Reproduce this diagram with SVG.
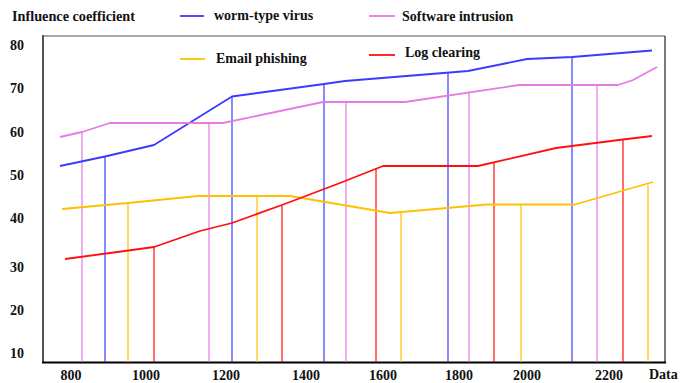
<svg xmlns="http://www.w3.org/2000/svg" width="680" height="383" viewBox="0 0 680 383">
<style>
text{font-family:"Liberation Serif","Times New Roman",serif;font-weight:bold;font-size:14px;fill:#111}
.s{fill:none;stroke-width:1.8;stroke-linejoin:round}
.v{stroke-width:1.6;opacity:0.75}
.blue{stroke:#3b3bff}
.pink{stroke:#e57be5}
.yel{stroke:#ffc000}
.red{stroke:#ff1010}
</style>
<rect width="680" height="383" fill="#fff"/>
<g id="legend">
<text x="12" y="21" textLength="123" lengthAdjust="spacingAndGlyphs">Influence coefficient</text>
<line class="s blue" x1="180" y1="16" x2="204" y2="16"/>
<text x="214" y="20">worm-type virus</text>
<line class="s pink" x1="369" y1="16" x2="395" y2="16"/>
<text x="402" y="21">Software intrusion</text>
<line class="s yel" x1="180" y1="59" x2="205" y2="59"/>
<text x="216" y="63">Email phishing</text>
<line class="s red" x1="369" y1="55" x2="395" y2="55"/>
<text x="405" y="57">Log clearing</text>
</g>
<g id="axes">
<line x1="43" y1="36" x2="665" y2="36" stroke="#555" stroke-width="1.2"/>
<line x1="665" y1="36" x2="665" y2="363" stroke="#222" stroke-width="1.2"/>
<line x1="43" y1="35" x2="43" y2="363" stroke="#555" stroke-width="2"/>
<line x1="42" y1="362.5" x2="666" y2="362.5" stroke="#000" stroke-width="2"/>
<g id="ylabels">
<text x="10" y="50">80</text>
<text x="10" y="93">70</text>
<text x="10" y="137">60</text>
<text x="10" y="180">50</text>
<text x="10" y="223">40</text>
<text x="10" y="272">30</text>
<text x="10" y="315">20</text>
<text x="10" y="358">10</text>
</g>
<g id="xlabels" text-anchor="middle">
<text x="71" y="380">800</text>
<text x="146" y="380">1000</text>
<text x="226" y="380">1200</text>
<text x="306" y="380">1400</text>
<text x="383" y="380">1600</text>
<text x="459" y="380">1800</text>
<text x="527" y="380">2000</text>
<text x="609" y="380">2200</text>
<text x="649" y="379" text-anchor="start" font-size="13">Data</text>
</g>
</g>
<g id="connectors">
<g id="verticals">
<line class="v pink" x1="82" y1="132" x2="82" y2="362"/>
<line class="v pink" x1="209" y1="123" x2="209" y2="362"/>
<line class="v pink" x1="346" y1="102" x2="346" y2="362"/>
<line class="v pink" x1="469" y1="93" x2="469" y2="362"/>
<line class="v pink" x1="597" y1="85" x2="597" y2="362"/>
<line class="v blue" x1="105" y1="156" x2="105" y2="362"/>
<line class="v blue" x1="232" y1="96" x2="232" y2="362"/>
<line class="v blue" x1="324" y1="84" x2="324" y2="362"/>
<line class="v blue" x1="448" y1="73" x2="448" y2="362"/>
<line class="v blue" x1="572" y1="57" x2="572" y2="362"/>
<line class="v yel" x1="128" y1="203" x2="128" y2="362"/>
<line class="v yel" x1="257" y1="196" x2="257" y2="362"/>
<line class="v yel" x1="401" y1="212" x2="401" y2="362"/>
<line class="v yel" x1="521" y1="204" x2="521" y2="362"/>
<line class="v yel" x1="648" y1="185" x2="648" y2="362"/>
<line class="v red" x1="154" y1="247" x2="154" y2="362"/>
<line class="v red" x1="282" y1="206" x2="282" y2="362"/>
<line class="v red" x1="376" y1="168" x2="376" y2="362"/>
<line class="v red" x1="494" y1="162" x2="494" y2="362"/>
<line class="v red" x1="623" y1="140" x2="623" y2="362"/>
</g>
<polyline id="worm" class="s blue" points="60,166 105,156.5 154,145 232,96.5 324,84 345,81 468,71 527,59 572,57 652,50.5"/>
<polyline id="software" class="s pink" points="60,137 82,132 110,123 223,123 323,102 405,102 519,85 618,85 633,80 657,67"/>
<polyline id="email" class="s yel" points="62,209 128,203 198,196 290,196 390,213 487,204.5 575,204.5 653,182"/>
<polyline id="log" class="s red" points="65,259 110,253 154,247 200,231 232,223 282,205 340,183 383,166 478,166 556,148 619,140 652,136"/>
</g>
</svg>
